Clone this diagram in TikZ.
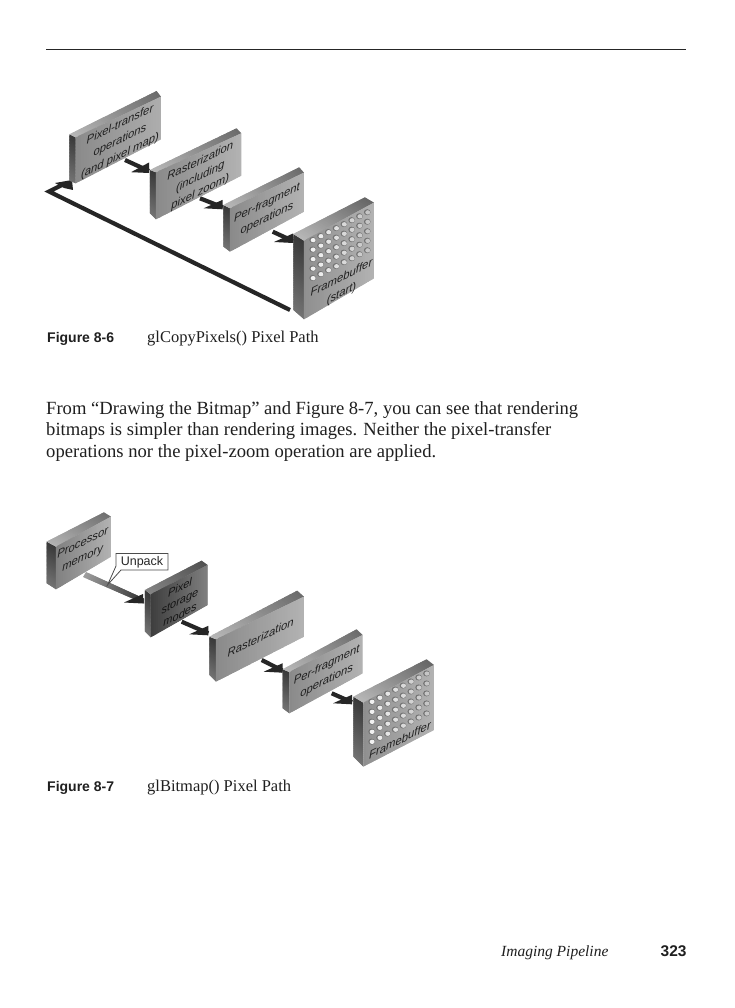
\documentclass[tikz,border=0pt]{standalone}
\usepackage{fontspec}
\setmainfont{Liberation Serif}
\newfontfamily\hv{Liberation Sans}
\tikzset{
  lbl/.style={transform shape,yslant=0.5,align=center,inner sep=0pt,font=\hv\itshape\fontsize{11.3}{15.5}\selectfont,text=black!88},
  conn/.style={line width=4.2pt,black!85},
  head/.style={fill=black!85},
  body/.style={anchor=base west,inner sep=0pt,font=\fontsize{18.6}{21.5}\selectfont,align=left,text=black!88},
  figtag/.style={anchor=base west,inner sep=0pt,font=\hv\bfseries\fontsize{14}{16}\selectfont,text=black!88},
  figcap/.style={anchor=base west,inner sep=0pt,font=\fontsize{16.5}{19}\selectfont,text=black!88},
}
% striped gradient quad: A B C D with stripes running from edge A-D to edge B-C; each stripe overlaps the next
\newcommand{\gq}[1]{%
  \foreach \ax/\ay/\bx/\by/\cx/\cy/\dx/\dy/\ca/\cb in {#1}{%
    \foreach \i in {0,...,31}{%
      \pgfmathsetmacro{\ta}{\i/32}\pgfmathsetmacro{\tb}{min(1,(\i+1.8)/32)}%
      \pgfmathsetmacro{\val}{\ca+(\cb-\ca)*(\i+0.5)/32}%
      \fill[black!\val]
        ({\ax+(\bx-\ax)*\ta},{\ay+(\by-\ay)*\ta})--({\ax+(\bx-\ax)*\tb},{\ay+(\by-\ay)*\tb})--
        ({\dx+(\cx-\dx)*\tb},{\dy+(\cy-\dy)*\tb})--({\dx+(\cx-\dx)*\ta},{\dy+(\cy-\dy)*\ta})--cycle;
    }%
  }%
}
% back-x/top/bottom, front-x/top/bottom, right-x/top/bottom, rear-x/y ; then top-face and front-face greys
\newcommand{\zblock}[5]{%
  \foreach \xb/\ybt/\ybb/\xf/\yft/\yfb/\xr/\yrt/\yrb/\xq/\yq in {#1}{%
    \gq{\xb/\ybt/\xb/\ybb/\xf/\yfb/\xf/\yft/78/55}
    \gq{\xb/\ybt/\xq/\yq/\xr/\yrt/\xf/\yft/#2/#3}
    \gq{\xf/\yft/\xr/\yrt/\xr/\yrb/\xf/\yfb/#4/#5}
  }%
}
\newcommand{\zholes}[5]{%
  \foreach \cc in {0,...,7}{\foreach \rr in {0,...,4}{%
    \pgfmathsetmacro{\hx}{#1+\cc*#3}\pgfmathsetmacro{\hy}{#2+\cc*#4+\rr*#5}
    \pgfmathsetmacro{\hw}{5+\cc*2.5}
    \fill[black!55] (\hx,\hy) ellipse [x radius=10,y radius=9];
    \fill[black!\hw] (\hx+1.5,\hy+0.5) ellipse [x radius=7.5,y radius=6.5];
  }}%
}
\begin{document}
\begin{tikzpicture}[x=1pt,y=-1pt]
\useasboundingbox (0,0) rectangle (734,1008);
\fill[white] (0,0) rectangle (734,1008);
\coordinate (ruleL) at (46,50);
\coordinate (ruleR) at (686,50);
\draw[line width=1pt,black!85] (ruleL)--(ruleR);

% ---------- Figure 8-6 connectors
\coordinate (aout) at (125,160); \coordinate (bin) at (149,171);
\coordinate (bout) at (200,198.3); \coordinate (cin) at (222.7,207.3);
\coordinate (cout) at (272.7,231.7); \coordinate (din) at (293,241);
\coordinate (dback) at (290,310); \coordinate (corner) at (49,191.5); \coordinate (ain) at (64,184);
\draw[conn,line join=miter] (dback)--(corner)--(ain);
\fill[head] (55,183)--(72,180)--(73,190)--(64,188)--cycle;
\draw[conn] (aout)--(bin);
\fill[head,shift={(bin)}] (-18,1.2)--(0,-8.5)--(0,2)--cycle;
\draw[conn] (bout)--(cin);
\fill[head,shift={(cin)}] (-19,1)--(0,-7.5)--(0,2)--cycle;
\draw[conn] (cout)--(din);
\fill[head,shift={(din)}] (-19,1)--(0,-7.5)--(0,2)--cycle;

% ---------- Figure 8-6 blocks
\begin{scope}[shift={(30,80)},x=0.3333pt,y=-0.3333pt]
\zblock{118/163/302/137/172/310/393/50/178/380/33}{28}{58}{46}{32}
\zblock{360/270/400/378/277/418/634/160/287/620/145}{28}{58}{46}{30}
\zblock{580/375/500/600/385/515/822/278/395/808/262}{28}{58}{46}{30}
\zblock{790/462/690/822/482/718/1032/368/595/1005/352}{28}{60}{44}{30}
\zholes{848}{480}{23.4}{-11.9}{28.5}
\end{scope}
\node[lbl] (lblA) at (120,140.5) {Pixel-transfer\\operations\\(and pixel map)};
\node[lbl] (lblB) at (200.3,177) {Rasterization\\(including\\pixel zoom)};
\node[lbl] (lblC) at (267,211) {Per-fragment\\operations};
\node[lbl] (lblD) at (341.5,286) {Framebuffer\\(start)};

\node[figtag] (tagA) at (47,342) {Figure 8-6};
\node[figcap] (capA) at (147,342) {glCopyPixels() Pixel Path};

\node[body] (para) at (46,457) {From “Drawing the Bitmap” and Figure 8-7, you can see that rendering\\
bitmaps is simpler than rendering images. Neither the pixel-transfer\\
operations nor the pixel-zoom operation are applied.};

% ---------- Figure 8-7 connectors
\coordinate (pout) at (85,575); \coordinate (qin) at (144,601.5);
\coordinate (qout) at (181.7,621.7); \coordinate (rin) at (208.3,633.3);
\coordinate (rout) at (261.7,660); \coordinate (sin) at (282.7,670.7);
\coordinate (sout) at (331.7,693.3); \coordinate (tin) at (352,702.3);
\gq{83/577/144/603.5/144/598.5/86/572/38/80}
\fill[head,shift={(qin)}] (-20,1)--(-1,-7.5)--(-1,2)--cycle;
\draw[conn] (qout)--(rin);
\fill[head,shift={(rin)}] (-19,1)--(0,-7.5)--(0,2)--cycle;
\draw[conn] (rout)--(sin);
\fill[head,shift={(sin)}] (-19,1)--(0,-7.5)--(0,2)--cycle;
\draw[conn] (sout)--(tin);
\fill[head,shift={(tin)}] (-19,1)--(0,-7.5)--(0,2)--cycle;

% ---------- Figure 8-7 blocks
\begin{scope}[shift={(30,500)},x=0.3333pt,y=-0.3333pt]
\zblock{50/125/250/78/140/268/243/50/170/222/37}{30}{56}{50}{30}
\zblock{345/270/395/362/283/412/533/195/315/515/182}{48}{68}{76}{50}
\zblock{538/410/525/558/418/545/822/290/410/802/272}{28}{58}{46}{30}
\zblock{758/508/625/778/516/640/998/405/520/980/388}{28}{58}{46}{30}
\zblock{970/590/770/1000/608/800/1212/495/690/1190/478}{28}{60}{44}{30}
\zholes{1025}{605}{23.5}{-12.1}{30}
\end{scope}
\node[lbl] (lblP) at (82.7,551) {Processor\\memory};
\node[lbl,text=black!92,font=\hv\itshape\fontsize{11}{13.5}\selectfont] (lblQ) at (180,601) {Pixel\\storage\\modes};
\node[lbl] (lblR) at (260.7,637.3) {Rasterization};
\node[lbl] (lblS) at (326.7,673.3) {Per-fragment\\operations};
\node[lbl] (lblT) at (400,740) {Framebuffer};

% ---------- Unpack callout
\coordinate (utip) at (107.5,585);
\draw[line width=0.8pt,black!70,fill=white] (116,553.5)--(168,553.5)--(168,570)--(121,570)--(utip)--(116,566)--cycle;
\node[inner sep=0pt,font=\hv\fontsize{12.5}{15}\selectfont,text=black!85] (unpack) at (142,562) {Unpack};

\node[figtag] (tagB) at (47,791) {Figure 8-7};
\node[figcap] (capB) at (147,791) {glBitmap() Pixel Path};

\node[anchor=base west,inner sep=0pt,font=\itshape\fontsize{15.5}{18}\selectfont,text=black!88] (foot) at (501,956) {Imaging Pipeline};
\node[anchor=base west,inner sep=0pt,font=\hv\bfseries\fontsize{15.5}{18}\selectfont,text=black!88] (page) at (660.5,956) {323};
\end{tikzpicture}
\end{document}
